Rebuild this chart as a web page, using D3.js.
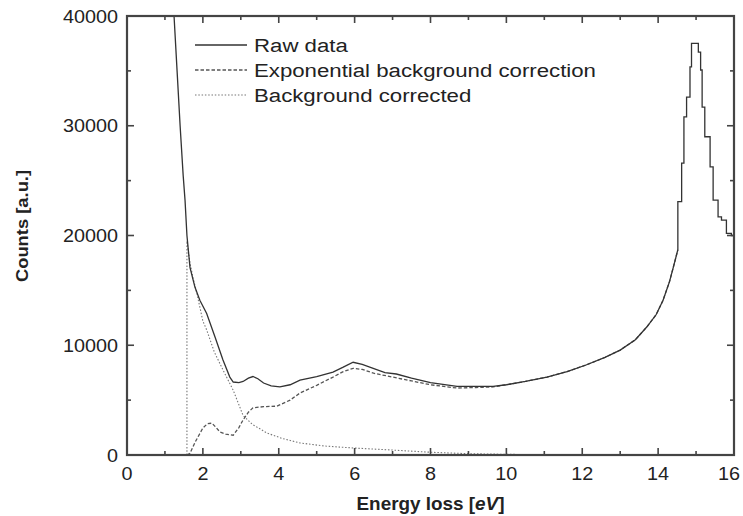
<!DOCTYPE html>
<html>
<head>
<meta charset="utf-8">
<script src="https://cdn.jsdelivr.net/npm/d3@7"></script>
<style>
  html, body { margin: 0; padding: 0; background: #fff; }
  svg { display: block; }
  text { font-family: "Liberation Sans", Arial, sans-serif; fill: #222; }
</style>
</head>
<body>
<svg id="chart" width="743" height="516"></svg>
<script>
// ---------------- data ----------------
const rawEnergy = [1.10, 1.24, 1.32, 1.40, 1.48, 1.53, 1.58, 1.66, 1.79, 1.92, 2.10, 2.32, 2.53, 2.71, 2.80, 2.95, 3.06, 3.20, 3.32, 3.45, 3.60, 3.80, 4.03, 4.30, 4.56, 5.00, 5.43, 5.70, 5.96, 6.20, 6.49, 6.80, 7.10, 7.50, 8.00, 8.70, 9.20, 9.65, 10.0, 10.5, 11.07, 11.6, 12.1, 12.6, 13.0, 13.4, 13.7, 13.95, 14.13, 14.3, 14.4, 14.52, 14.52, 14.62, 14.62, 14.68, 14.68, 14.75, 14.75, 14.84, 14.84, 14.88, 14.88, 14.95, 14.95, 15.06, 15.06, 15.12, 15.12, 15.16, 15.16, 15.23, 15.23, 15.37, 15.37, 15.45, 15.45, 15.58, 15.58, 15.67, 15.67, 15.8, 15.8, 15.93, 15.93, 16.0];
const rawCounts = [48000, 40000, 35000, 30000, 25500, 23200, 20000, 17100, 15300, 14100, 12900, 10750, 8650, 7100, 6650, 6600, 6700, 7000, 7150, 6950, 6560, 6300, 6200, 6400, 6830, 7150, 7560, 8000, 8450, 8250, 7900, 7500, 7380, 7000, 6600, 6250, 6250, 6250, 6400, 6700, 7100, 7600, 8200, 8900, 9560, 10500, 11660, 12800, 14100, 15800, 17100, 18700, 23080, 23080, 26600, 26600, 30800, 30800, 32600, 32600, 35360, 35360, 37500, 37500, 37500, 37500, 36700, 36700, 35080, 35080, 31700, 31700, 29000, 29000, 26250, 26250, 23230, 23230, 21700, 21700, 21400, 21400, 20200, 20200, 20000, 20000];

const bgEnergy = [1.58, 1.58, 1.66, 1.75, 1.84, 2.00, 2.10, 2.30, 2.53, 2.80, 3.06, 3.30, 3.69, 4.10, 4.56, 5.20, 5.96, 7.00, 8.00, 9.00, 10.0, 11.0, 12.0];
const bgCounts = [0, 19500, 17500, 16000, 14750, 12200, 11400, 9400, 7750, 5900, 3600, 2800, 2000, 1500, 1100, 820, 640, 450, 250, 120, 60, 30, 15];

const corrEnergy = [1.58, 1.66, 1.80, 2.00, 2.12, 2.24, 2.35, 2.45, 2.60, 2.80, 2.95, 3.06, 3.20, 3.32, 3.60, 3.95, 4.30, 4.56, 5.00, 5.43, 5.70, 5.96, 6.20, 6.50, 7.00, 7.50, 8.00, 8.70, 9.20, 9.65, 10.0, 10.5, 11.07, 11.6, 12.1, 12.6, 13.0, 13.4, 13.7, 13.95, 14.13, 14.3, 14.4, 14.52];
const corrCounts = [0, 150, 1200, 2460, 2850, 2900, 2500, 2100, 1900, 1800, 2500, 3200, 3900, 4300, 4400, 4450, 5000, 5650, 6350, 7100, 7600, 7900, 7800, 7450, 7100, 6750, 6400, 6100, 6150, 6200, 6400, 6700, 7100, 7600, 8200, 8900, 9560, 10500, 11660, 12800, 14100, 15800, 17100, 18700];

const xTickLabels = [0, 2, 4, 6, 8, 10, 12, 14, 16];
const yTickLabels = [0, 10000, 20000, 30000, 40000];
const legendLabels = ["Raw data", "Exponential background correction", "Background corrected"];

// ---------------- layout ----------------
const svg = d3.select("#chart");
const L = 127, R = 734, T = 16, B = 455;
const x = d3.scaleLinear().domain([0, 16]).range([L, R]);
const y = d3.scaleLinear().domain([0, 40000]).range([B, T]);

svg.append("defs").append("clipPath").attr("id", "clip")
  .append("rect").attr("x", L).attr("y", T).attr("width", R - L).attr("height", B - T);

const line = d3.line().x(d => x(d[0])).y(d => y(d[1])).curve(d3.curveLinear);
const zip = (a, b) => a.map((v, i) => [v, b[i]]);

const plot = svg.append("g").attr("clip-path", "url(#clip)");

// background (dotted)
plot.append("path").datum(zip(bgEnergy, bgCounts))
  .attr("d", line).attr("fill", "none")
  .attr("stroke", "#777").attr("stroke-width", 1.1).attr("stroke-dasharray", "1.5,1.8");

// corrected (dashed)
plot.append("path").datum(zip(corrEnergy, corrCounts))
  .attr("d", line).attr("fill", "none")
  .attr("stroke", "#555").attr("stroke-width", 1.3).attr("stroke-dasharray", "3.5,2");

// raw (solid)
plot.append("path").datum(zip(rawEnergy, rawCounts))
  .attr("d", line).attr("fill", "none")
  .attr("stroke", "#333").attr("stroke-width", 1.3);

// ---------------- frame & ticks ----------------
const g = svg.append("g").attr("stroke", "#444").attr("fill", "none");
const xMinor = d3.range(0, 17, 1);
const yMinor = d3.range(0, 40001, 5000);

xMinor.forEach(v => {
  const len = v % 2 === 0 ? 7 : 4;
  g.append("line").attr("x1", x(v)).attr("x2", x(v)).attr("y1", B).attr("y2", B - len).attr("stroke-width", 1.6);
  g.append("line").attr("x1", x(v)).attr("x2", x(v)).attr("y1", T).attr("y2", T + len).attr("stroke-width", 1.6);
});
yMinor.forEach(v => {
  const len = v % 10000 === 0 ? 7 : 4;
  g.append("line").attr("x1", L).attr("x2", L + len).attr("y1", y(v)).attr("y2", y(v)).attr("stroke-width", 1.6);
  g.append("line").attr("x1", R).attr("x2", R - len).attr("y1", y(v)).attr("y2", y(v)).attr("stroke-width", 1.6);
});
g.append("rect").attr("x", L).attr("y", T).attr("width", R - L).attr("height", B - T)
  .attr("stroke-width", 2.2);

// tick labels
xTickLabels.forEach(v => {
  const px = Math.min(x(v), 729);
  svg.append("text")
    .attr("transform", `translate(${px},${B + 25}) scale(1.1,1)`)
    .attr("text-anchor", "middle").attr("font-size", 18).text(v);
});
yTickLabels.forEach(v => {
  svg.append("text")
    .attr("transform", `translate(${L - 9},${y(v) + 6.5}) scale(1.1,1)`)
    .attr("text-anchor", "end").attr("font-size", 18).text(v);
});

// axis titles
const xt = svg.append("text")
  .attr("transform", `translate(${(L + R) / 2 + 0},510) scale(1.08,1)`)
  .attr("text-anchor", "middle").attr("font-size", 17.5).attr("font-weight", "bold");
xt.append("tspan").text("Energy loss [");
xt.append("tspan").attr("font-style", "italic").text("eV");
xt.append("tspan").text("]");

svg.append("text")
  .attr("transform", `translate(28,226) rotate(-90) scale(1.08,1)`)
  .attr("text-anchor", "middle").attr("font-size", 17).attr("font-weight", "bold")
  .text("Counts [a.u.]");

// legend
const legendStyles = [
  { stroke: "#333", dash: null, w: 1.3 },
  { stroke: "#555", dash: "3.5,2", w: 1.3 },
  { stroke: "#777", dash: "1.5,1.8", w: 1.1 }
];
legendLabels.forEach((lab, i) => {
  const yy = 45 + i * 25;
  const st = legendStyles[i];
  svg.append("line").attr("x1", 195).attr("x2", 247).attr("y1", yy).attr("y2", yy)
    .attr("stroke", st.stroke).attr("stroke-width", st.w)
    .attr("stroke-dasharray", st.dash);
  svg.append("text")
    .attr("transform", `translate(254,${yy + 7}) scale(1.17,1)`)
    .attr("font-size", 19).text(lab);
});
</script>
</body>
</html>
